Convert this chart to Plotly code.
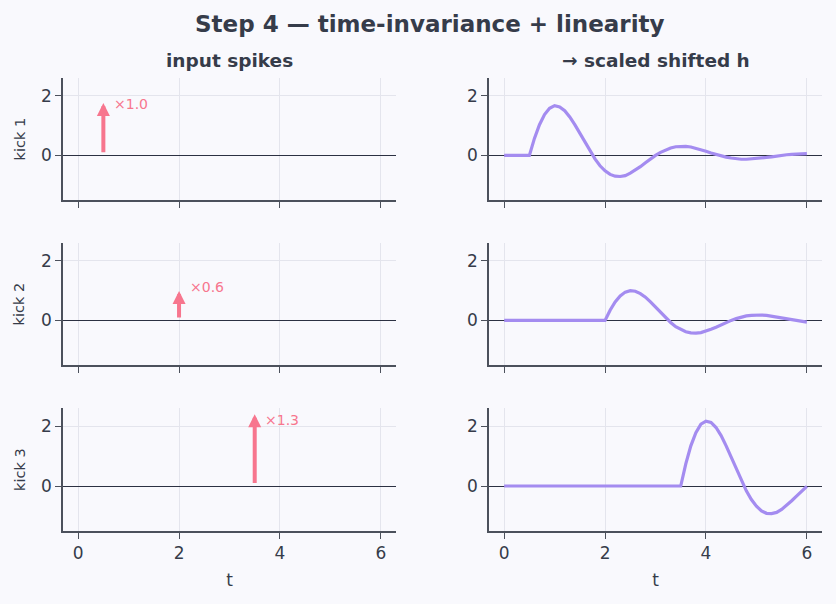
import plotly.graph_objects as go
from plotly.subplots import make_subplots

# ---------------- data ----------------
kick_names = ["kick 1", "kick 2", "kick 3"]
kick_times = [0.5, 2.0, 3.5]
kick_scales = [1.0, 0.6, 1.3]
kick_labels = ["×1.0", "×0.6", "×1.3"]
arrow_tips = [1.76, 0.99, 2.39]      # arrow tip heights in left panels
label_heights = [1.74, 1.11, 2.21]   # label vertical positions

# response curves (right column), sampled every 0.1 after the kick
t1 = [0.0] + [round(0.5 + 0.1 * i, 2) for i in range(56)]
y1 = [0.0, 0, 0.57, 1.03, 1.37, 1.58, 1.67, 1.63, 1.50, 1.29, 1.03, 0.74, 0.43,
      0.14, -0.12, -0.35, -0.52, -0.64, -0.70, -0.71, -0.68, -0.60, -0.50,
      -0.38, -0.25, -0.12, 0.00, 0.10, 0.19, 0.25, 0.29, 0.30, 0.30, 0.28,
      0.24, 0.19, 0.14, 0.08, 0.03, -0.02, -0.06, -0.09, -0.12, -0.13, -0.13,
      -0.12, -0.11, -0.09, -0.07, -0.05, -0.02, 0.00, 0.02, 0.03, 0.05, 0.05,
      0.06]
t2 = [0.0] + [round(2.0 + 0.1 * i, 2) for i in range(41)]
y2 = [0.0, 0, 0.34, 0.62, 0.82, 0.95, 1.00, 0.98, 0.90, 0.78, 0.62, 0.44, 0.26,
      0.08, -0.07, -0.21, -0.31, -0.38, -0.42, -0.43, -0.41, -0.36, -0.30,
      -0.23, -0.15, -0.07, 0.00, 0.06, 0.11, 0.15, 0.17, 0.18, 0.18, 0.17,
      0.14, 0.11, 0.08, 0.05, 0.02, -0.01, -0.04, -0.06]
t3 = [0.0] + [round(3.5 + 0.1 * i, 2) for i in range(26)]
y3 = [0.0, 0, 0.74, 1.34, 1.78, 2.06, 2.16, 2.12, 1.95, 1.68, 1.34, 0.96, 0.56,
      0.18, -0.16, -0.45, -0.67, -0.83, -0.91, -0.92, -0.88, -0.78, -0.65,
      -0.49, -0.33, -0.16, -0.01]
curves_t = [t1, t2, t3]
curves_y = [y1, y2, y3]

x_ticks = [0, 2, 4, 6]
y_ticks = [0, 2]

# ---------------- style ----------------
BG = "#f9f9fd"
TXT = "#363c4a"
AXC = "#4c515c"
GRID = "#e4e5ed"
ZERO = "#2c3142"
RED = "#f7768e"
PURPLE = "#a48cf0"
FONT = "DejaVu Sans"

W, H = 836, 604
ml, mr, mt, mb = 63, 14, 78, 73
pw, ph = W - ml - mr, H - mt - mb

fig = make_subplots(rows=3, cols=2, horizontal_spacing=0.1226,
                    vertical_spacing=0.095)

row_dom = [(0.7307, 1.0), (0.3664, 0.6358), (0.0, 0.2715)]
col_dom = [(0.0, 0.4387), (0.5613, 1.0)]

for r in range(3):
    # right column: response curve
    fig.add_trace(go.Scatter(x=curves_t[r], y=curves_y[r], mode="lines",
                             line=dict(color=PURPLE, width=3.2),
                             showlegend=False, hoverinfo="skip"),
                  row=r + 1, col=2)
    # left column: an invisible point so axes exist
    fig.add_trace(go.Scatter(x=[kick_times[r]], y=[0], mode="markers",
                             marker=dict(size=1, color="rgba(0,0,0,0)"),
                             showlegend=False, hoverinfo="skip"),
                  row=r + 1, col=1)

for r in range(3):
    for c in range(2):
        idx = r * 2 + c + 1
        xa = "xaxis" if idx == 1 else f"xaxis{idx}"
        ya = "yaxis" if idx == 1 else f"yaxis{idx}"
        fig.layout[xa].update(
            domain=col_dom[c], range=[-0.3, 6.3], tickvals=x_ticks,
            showticklabels=(r == 2), showgrid=True, gridcolor=GRID, gridwidth=1.2,
            zeroline=False, showline=True, linecolor=AXC, linewidth=1.6,
            ticks="outside", ticklen=6, tickwidth=1.4, tickcolor=AXC,
            tickfont=dict(family=FONT, size=17, color=TXT),
            title=dict(text="t" if r == 2 else "",
                       font=dict(family=FONT, size=17, color=TXT), standoff=12),
        )
        fig.layout[ya].update(
            domain=row_dom[r], range=[-1.5, 2.6], tickvals=y_ticks,
            showgrid=True, gridcolor=GRID, gridwidth=1.2,
            zeroline=True, zerolinecolor=ZERO, zerolinewidth=1.1,
            showline=True, linecolor=AXC, linewidth=1.6,
            ticks="outside", ticklen=6, tickwidth=1.4, tickcolor=AXC,
            tickfont=dict(family=FONT, size=17, color=TXT),
        )

annotations = []
for r in range(3):
    idx = r * 2 + 1
    xr = "x" if idx == 1 else f"x{idx}"
    yr = "y" if idx == 1 else f"y{idx}"
    annotations.append(dict(
        x=kick_times[r], y=arrow_tips[r], ax=kick_times[r], ay=0.05,
        xref=xr, yref=yr, axref=xr, ayref=yr, text="", showarrow=True,
        arrowhead=2, arrowsize=0.65, arrowwidth=4, arrowcolor=RED, standoff=0))
    annotations.append(dict(
        x=kick_times[r] + 0.17, y=label_heights[r], xref=xr, yref=yr,
        text=kick_labels[r], showarrow=False, xanchor="left", yanchor="middle",
        font=dict(family=FONT, size=14, color=RED)))
    # row label
    annotations.append(dict(
        x=(19.5 - ml) / pw, y=sum(row_dom[r]) / 2, xref="paper", yref="paper",
        text=kick_names[r], showarrow=False, textangle=-90,
        xanchor="center", yanchor="middle",
        font=dict(family=FONT, size=14.5, color=TXT)))

# column titles
for c, txt in enumerate(["<b>input spikes</b>", "<b>→ scaled shifted h</b>"]):
    annotations.append(dict(
        x=sum(col_dom[c]) / 2, y=1 + (mt - 60) / ph, xref="paper", yref="paper",
        text=txt, showarrow=False, xanchor="center", yanchor="middle",
        font=dict(family=FONT, size=18.5, color=TXT)))

# main title
annotations.append(dict(
    x=(430 - ml) / pw, y=1 + (mt - 24) / ph, xref="paper", yref="paper",
    text="<b>Step 4 — time-invariance + linearity</b>", showarrow=False,
    xanchor="center", yanchor="middle",
    font=dict(family=FONT, size=23, color=TXT)))

fig.update_layout(
    width=W, height=H, margin=dict(l=ml, r=mr, t=mt, b=mb),
    paper_bgcolor=BG, plot_bgcolor=BG, annotations=annotations,
    showlegend=False, font=dict(family=FONT, color=TXT),
)

fig.write_html("out.html")
